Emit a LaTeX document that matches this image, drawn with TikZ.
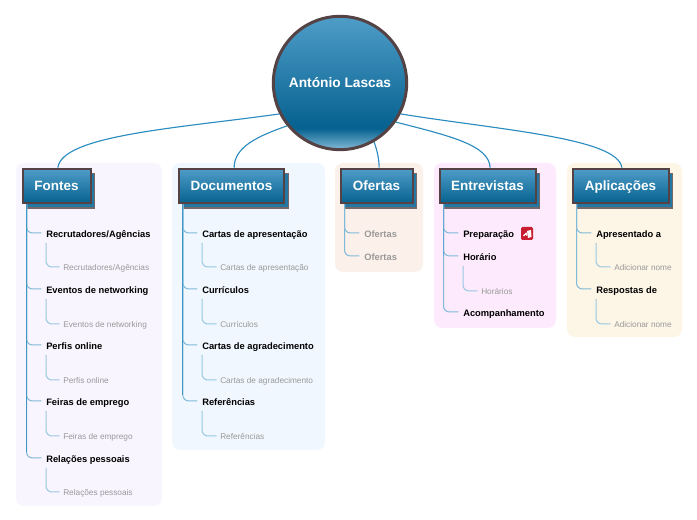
\documentclass[tikz,border=0pt]{standalone}
\usepackage{fontspec}
\setmainfont{Liberation Sans}
\usetikzlibrary{shadows}
\definecolor{rimbrown}{HTML}{544244}
\definecolor{lightblue}{HTML}{4F9DC8}
\definecolor{darkblue}{HTML}{05618F}
\definecolor{linkblue}{HTML}{2B8CC0}
\pgfdeclareverticalshading{rootshade}{100bp}{color(0bp)=(lightblue!70!white);color(25bp)=(lightblue!70!white);color(33bp)=(darkblue);color(75bp)=(lightblue);color(100bp)=(lightblue)}
\tikzset{
  rootnode/.style={circle,draw=rimbrown,line width=2.25pt,minimum size=100pt,inner sep=0pt,shading=rootshade,text=white,font=\bfseries\fontsize{10.3}{13}\selectfont},
  topic/.style={draw=rimbrown,line width=1.5pt,minimum height=26pt,inner sep=0pt,text height=9pt,text depth=1.5pt,top color=lightblue,bottom color=darkblue,text=white,font=\bfseries\fontsize{10.1}{12}\selectfont,
    general shadow={shadow xshift=3pt,shadow yshift=-3.5pt,fill=linkblue!85!black,draw=rimbrown!80,line width=1pt}},
  item/.style={anchor=west,inner sep=0pt,text height=7.5pt,text depth=1pt,font=\bfseries\fontsize{7}{8}\selectfont},
  subitem/.style={anchor=west,inner sep=0pt,text height=6.5pt,text depth=1.5pt,text=black!40,font=\fontsize{6.2}{8}\selectfont},
  link/.style={draw=linkblue,line width=0.85pt},
  trunk/.style={draw=linkblue!90,line width=0.85pt},
  tick/.style={draw=linkblue!60,line width=0.75pt,rounded corners=4.5pt,shorten >=3.5pt},
  twig/.style={draw=linkblue!48,line width=0.75pt,rounded corners=4.5pt,shorten >=2.5pt},
}
\begin{document}
\begin{tikzpicture}[x=0.75pt,y=0.75pt,yscale=-1,xscale=1]
\useasboundingbox (0,0) rectangle (697,520);
% panels
\fill [rounded corners=6pt,fill={rgb,255:red,249;green,245;blue,254}] (16,163) rectangle (162,506);
\fill [rounded corners=6pt,fill={rgb,255:red,240;green,247;blue,254}] (172,163) rectangle (325,450);
\fill [rounded corners=6pt,fill={rgb,255:red,252;green,241;blue,234}] (335,163) rectangle (423,272);
\fill [rounded corners=6pt,fill={rgb,255:red,253;green,234;blue,252}] (434,163) rectangle (556,328);
\fill [rounded corners=6pt,fill={rgb,255:red,253;green,245;blue,230}] (567,163) rectangle (682,337);
% links from the centre
\node [rootnode] (root) at (340,83) {António Lascas};
\node [topic,minimum width=51pt] (fontes) at (56.5,186) {Fontes};
\node [topic,minimum width=79pt] (docs) at (231.5,186) {Documentos};
\node [topic,minimum width=54pt] (ofertas) at (376.5,186) {Ofertas};
\node [topic,minimum width=72pt] (entrev) at (487.5,186) {Entrevistas};
\node [topic,minimum width=72pt] (aplic) at (620.5,186) {Aplicações};
\draw [link] (root.207) .. controls (180,128) and (62,135) .. ([xshift=1pt]fontes.north);
\draw [link] (root.219) .. controls (258,136) and (234,147) .. ([xshift=2pt]docs.north);
\draw [link] (root.300) .. controls (377,150) and (379,158) .. ([xshift=2pt]ofertas.north);
\draw [link] (root.325) .. controls (450,136) and (489,145) .. ([xshift=2pt]entrev.north);
\draw [link] (root.333) .. controls (500,130) and (618,138) .. ([xshift=1pt]aplic.north);
% Fontes
\node [item] (f1) at (46,233) {Recrutadores/Agências};
\node [subitem] (f1a) at (63,267) {Recrutadores/Agências};
\node [item] (f2) at (46,289) {Eventos de networking};
\node [subitem] (f2a) at (63,324) {Eventos de networking};
\node [item] (f3) at (46,345) {Perfis online};
\node [subitem] (f3a) at (63,380) {Perfis online};
\node [item] (f4) at (46,401) {Feiras de emprego};
\node [subitem] (f4a) at (63,436) {Feiras de emprego};
\node [item] (f5) at (46,458) {Relações pessoais};
\node [subitem] (f5a) at (63,492) {Relações pessoais};
\foreach \n in {f1,f2,f3,f4,f5}{
  \draw [tick] ([xshift=3.75pt]fontes.south west) |- (\n.west);
  \draw [twig] ([yshift=3pt]\n.south west) |- (\n a.west);
}
\draw [trunk] ([xshift=3.75pt]fontes.south west) -- ([xshift=3.75pt]fontes.south west |- f5.north);
% Documentos
\node [item] (d1) at (202,233) {Cartas de apresentação};
\node [subitem] (d1a) at (220,267) {Cartas de apresentação};
\node [item] (d2) at (202,289) {Currículos};
\node [subitem] (d2a) at (220,324) {Currículos};
\node [item] (d3) at (202,345) {Cartas de agradecimento};
\node [subitem] (d3a) at (220,380) {Cartas de agradecimento};
\node [item] (d4) at (202,401) {Referências};
\node [subitem] (d4a) at (220,436) {Referências};
\foreach \n in {d1,d2,d3,d4}{
  \draw [tick] ([xshift=3.75pt]docs.south west) |- (\n.west);
  \draw [twig] ([yshift=3pt]\n.south west) |- (\n a.west);
}
\draw [trunk] ([xshift=3.75pt]docs.south west) -- ([xshift=3.75pt]docs.south west |- d4.north);
% Ofertas
\node [item,text=black!40] (o1) at (364,233) {Ofertas};
\node [item,text=black!40] (o2) at (364,256) {Ofertas};
\draw [tick] ([xshift=3.75pt]ofertas.south west) |- (o1.west);
\draw [tick] ([xshift=3.75pt]ofertas.south west) |- (o2.west);
% Entrevistas
\node [item] (e1) at (463,233) {Preparação};
\node [item] (e2) at (463,256) {Horário};
\node [subitem] (e2a) at (481,291) {Horários};
\node [item] (e3) at (463,312) {Acompanhamento};
\draw [tick] ([xshift=3.75pt]entrev.south west) |- (e1.west);
\draw [tick] ([xshift=3.75pt]entrev.south west) |- (e2.west);
\draw [tick] ([xshift=3.75pt]entrev.south west) |- (e3.west);
\draw [trunk,draw=linkblue!75] ([xshift=3.75pt]entrev.south west) -- ([xshift=3.75pt]entrev.south west |- e2.west);
\draw [twig] ([yshift=3pt]e2.south west) |- (e2a.west);
\fill [rounded corners=1pt,fill={rgb,255:red,200;green,30;blue,50}] (521,227) rectangle (533,240);
\draw [white,line width=1pt] (523.5,236) -- (526,233.5) -- (527,235.5);
\fill [white] (527,231) -- (531,230) -- (531.5,237) -- (528,238) -- cycle;
% Aplicacoes
\node [item] (a1) at (596,233) {Apresentado a};
\node [subitem] (a1a) at (614,267) {Adicionar nome};
\node [item] (a2) at (596,289) {Respostas de};
\node [subitem] (a2a) at (614,324) {Adicionar nome};
\foreach \n in {a1,a2}{
  \draw [tick] ([xshift=3.75pt]aplic.south west) |- (\n.west);
  \draw [twig] ([yshift=3pt]\n.south west) |- (\n a.west);
}
\end{tikzpicture}
\end{document}
